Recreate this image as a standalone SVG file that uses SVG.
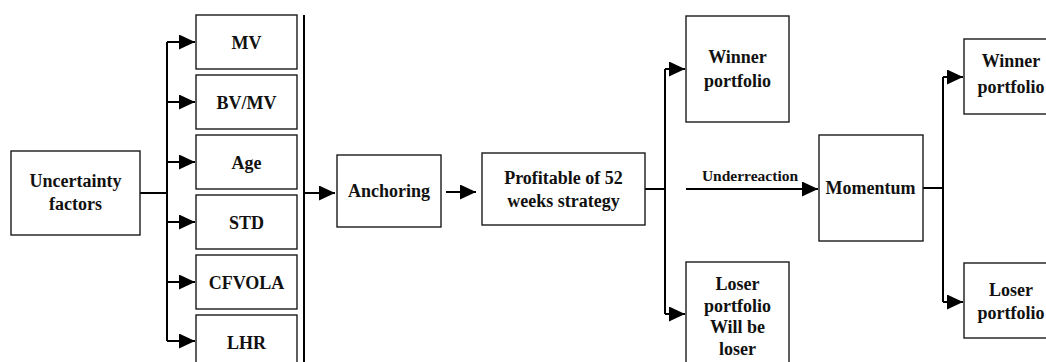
<svg xmlns="http://www.w3.org/2000/svg" width="1046" height="362" viewBox="0 0 1046 362">
<style>
.box{fill:#fff;stroke:#1a1a1a;stroke-width:1.4}
.t{font-family:"Liberation Serif","Times New Roman",serif;font-weight:bold;font-size:18px;fill:#111;text-anchor:middle}
.s{font-size:15.5px}
.c{fill:none;stroke:#000;stroke-width:2}
</style>
<defs>
<marker id="ah" markerUnits="userSpaceOnUse" markerWidth="17" markerHeight="16" refX="16" refY="7.5" orient="auto">
<path d="M0,0 L16,7.5 L0,15 z" fill="#000"/>
</marker>
</defs>
<g id="connectors">
<path class="c" d="M140,193 H167 M167,42 V341"/>
<path class="c" d="M167,42 H195" marker-end="url(#ah)"/>
<path class="c" d="M167,102 H195" marker-end="url(#ah)"/>
<path class="c" d="M167,162 H195" marker-end="url(#ah)"/>
<path class="c" d="M167,222 H195" marker-end="url(#ah)"/>
<path class="c" d="M167,282 H195" marker-end="url(#ah)"/>
<path class="c" d="M167,341 H195" marker-end="url(#ah)"/>
<path class="c" d="M304,15 V362"/>
<path class="c" d="M304,193 H335" marker-end="url(#ah)"/>
<path class="c" d="M446,192 H476" marker-end="url(#ah)"/>
<path class="c" d="M645,189 H665 M665,69 V314"/>
<path class="c" d="M665,69 H685" marker-end="url(#ah)"/>
<path class="c" d="M665,314 H685" marker-end="url(#ah)"/>
<path class="c" d="M686,189 H818" marker-end="url(#ah)"/>
<text class="t s" x="750" y="181">Underreaction</text>
<path class="c" d="M923,188 H943 M943,77 V302"/>
<path class="c" d="M943,77 H963" marker-end="url(#ah)"/>
<path class="c" d="M943,302 H963" marker-end="url(#ah)"/>
</g>
<g id="uncertainty"><rect class="box" x="11" y="151" width="129" height="84"/><text class="t" x="75.5" y="187">Uncertainty</text><text class="t" x="75.5" y="210">factors</text></g>
<g id="mv"><rect class="box" x="196" y="15" width="101" height="54"/><text class="t" x="246.5" y="48.5">MV</text></g>
<g id="bvmv"><rect class="box" x="196" y="75" width="101" height="54"/><text class="t" x="246.5" y="108.5">BV/MV</text></g>
<g id="age"><rect class="box" x="196" y="135" width="101" height="54"/><text class="t" x="246.5" y="168.5">Age</text></g>
<g id="std"><rect class="box" x="196" y="195" width="101" height="54"/><text class="t" x="246.5" y="228.5">STD</text></g>
<g id="cfvola"><rect class="box" x="196" y="255" width="101" height="54"/><text class="t" x="246.5" y="288.5">CFVOLA</text></g>
<g id="lhr"><rect class="box" x="196" y="315" width="101" height="60"/><text class="t" x="246.5" y="348.5">LHR</text></g>
<g id="anchoring"><rect class="box" x="337" y="155" width="104" height="72"/><text class="t" x="389" y="197">Anchoring</text></g>
<g id="profitable"><rect class="box" x="482" y="153" width="163" height="72"/><text class="t" x="563.5" y="184">Profitable of 52</text><text class="t" x="563.5" y="207">weeks strategy</text></g>
<g id="winner1"><rect class="box" x="686" y="16" width="103" height="106"/><text class="t" x="737.5" y="63">Winner</text><text class="t" x="737.5" y="87">portfolio</text></g>
<g id="loser1"><rect class="box" x="686" y="262" width="103" height="110"/><text class="t" x="737.5" y="290">Loser</text><text class="t" x="737.5" y="311.5">portfolio</text><text class="t" x="737.5" y="333">Will be</text><text class="t" x="737.5" y="354.5">loser</text></g>
<g id="momentum"><rect class="box" x="819" y="135" width="104" height="106"/><text class="t" x="870.5" y="194">Momentum</text></g>
<g id="winner2"><rect class="box" x="964" y="39" width="96" height="75"/><text class="t" x="1011" y="67">Winner</text><text class="t" x="1011" y="93">portfolio</text></g>
<g id="loser2"><rect class="box" x="964" y="263" width="96" height="75"/><text class="t" x="1011" y="296">Loser</text><text class="t" x="1011" y="319">portfolio</text></g>
</svg>
